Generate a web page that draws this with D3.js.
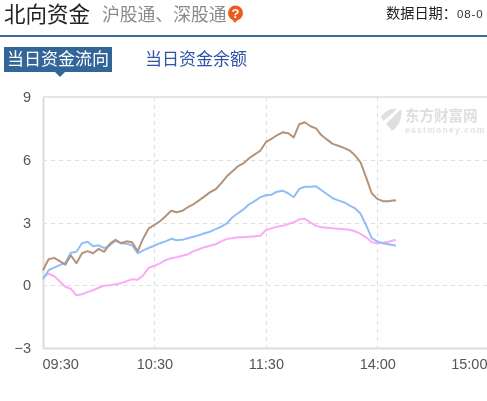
<!DOCTYPE html>
<html><head><meta charset="utf-8">
<script src="https://cdn.jsdelivr.net/npm/d3@7/dist/d3.min.js"></script>
<style>
html,body{margin:0;padding:0;background:#fff;overflow:hidden}
svg{display:block}
text{font-family:"Liberation Sans","Noto Sans CJK SC",sans-serif}
</style></head><body>
<svg id="c" width="487" height="401"></svg>
<script>
const minutes = [0,3,6,9,12,15,18,21,24,27,30,33,36,39,42,45,48,51,54,57,60,63,66,69,72,75,78,81,84,87,90,93,96,99,102,105,108,111,114,117,120,123,126,129,132,135,138,141,144,147,150,153,156,159,162,165,168,171,174,177,180,183,186,189,190];
const northbound = [0.72,1.24,1.31,1.15,0.98,1.43,1.05,1.53,1.63,1.53,1.74,1.60,1.98,2.17,2.01,2.10,2.06,1.63,2.25,2.72,2.89,3.06,3.30,3.56,3.49,3.56,3.73,3.87,4.06,4.25,4.45,4.59,4.88,5.21,5.45,5.69,5.83,6.07,6.26,6.43,6.84,7.00,7.17,7.31,7.27,7.07,7.70,7.79,7.60,7.50,7.17,6.96,6.76,6.67,6.57,6.45,6.21,5.88,5.16,4.40,4.13,4.02,4.02,4.06,4.04];
const shanghai = [0.29,0.72,0.84,0.96,1.08,1.55,1.60,2.01,2.08,1.86,1.91,1.77,1.91,2.13,2.01,1.98,1.91,1.53,1.67,1.79,1.89,2.01,2.10,2.22,2.15,2.17,2.25,2.32,2.39,2.49,2.56,2.68,2.80,2.96,3.25,3.44,3.63,3.87,4.02,4.21,4.30,4.33,4.47,4.52,4.40,4.21,4.61,4.71,4.71,4.73,4.54,4.35,4.16,4.06,3.97,3.82,3.68,3.42,2.87,2.25,2.10,2.01,1.96,1.91,1.89];
const shenzhen = [0.38,0.55,0.43,0.19,-0.07,-0.17,-0.48,-0.43,-0.33,-0.24,-0.12,-0.02,0,0.05,0.10,0.19,0.29,0.26,0.48,0.84,0.93,1.05,1.20,1.29,1.34,1.41,1.48,1.63,1.72,1.82,1.89,1.96,2.10,2.22,2.25,2.29,2.29,2.32,2.34,2.37,2.63,2.72,2.80,2.84,2.92,3.01,3.15,3.18,3.01,2.84,2.77,2.75,2.72,2.70,2.68,2.65,2.58,2.46,2.29,2.06,2.01,2.03,2.08,2.15,2.17];
const xTickMinutes = [0,60,120,180,240];
const xTickLabels = ["09:30","10:30","11:30","14:00","15:00"];
const yTicks = [-3,0,3,6,9];
const seriesColors = {northbound:"#b3947a",shanghai:"#90bef7",shenzhen:"#fbaaf5"};

const svg = d3.select("#c");
const L=43,R=488.7,T=97,B=348;
const x = d3.scaleLinear().domain([0,240]).range([L,R]);
const y = d3.scaleLinear().domain([-3,9]).range([B,T]);
const blur = svg.append("defs").append("filter").attr("id","soft").attr("x","-5%").attr("y","-5%").attr("width","110%").attr("height","110%");
blur.append("feGaussianBlur").attr("stdDeviation",0.45);
const root = svg.append("g").attr("filter","url(#soft)");

// header
root.append("text").attr("x",4).attr("y",22).attr("font-size",21.5).attr("fill","#222").text("北向资金");
root.append("text").attr("x",102).attr("y",20.5).attr("font-size",17.8).attr("fill","#8a8a8a").text("沪股通、深股通");
root.append("circle").attr("cx",235.5).attr("cy",13).attr("r",7.5).attr("fill","#ee5a1e");
root.append("path").attr("d",d3.line()([[231,18],[239,18],[235,23]])).attr("fill","#ee5a1e");
root.append("text").attr("x",235.5).attr("y",18).attr("text-anchor","middle").attr("font-size",13).attr("font-weight",700).attr("fill","#fff").text("?");
root.append("text").attr("x",386).attr("y",18).attr("font-size",14.2).attr("fill","#222").text("数据日期：");
root.append("text").attr("x",457).attr("y",18).attr("font-size",11.5).attr("letter-spacing",0.9).attr("fill","#333").attr("font-family","DejaVu Sans").text("08-0");
root.append("rect").attr("x",0).attr("y",35).attr("width",487).attr("height",2).attr("fill","#3f67a3");

// tabs
root.append("rect").attr("x",4).attr("y",47).attr("width",108).attr("height",25).attr("fill","#336699");
root.append("path").attr("d",d3.line()([[54,71],[66,71],[60,77]])).attr("fill","#336699");
root.append("text").attr("x",7).attr("y",65).attr("font-size",17).attr("fill","#fff").text("当日资金流向");
root.append("text").attr("x",145).attr("y",65).attr("font-size",17).attr("fill","#2f55a4").text("当日资金余额");

// watermark
const wm = root.append("g").attr("fill","#dfdfdf");
wm.append("path").attr("d","M381 116 C388 109 393 108 397 109 C392 113 388 118 383 121 Z");
wm.append("path").attr("d","M386 124 C392 118 396 114 401 109 C403 116 399 127 392 131 C390 128 388 126 386 124 Z");
root.append("text").attr("x",405).attr("y",121).attr("font-size",14.5).attr("font-weight",700).attr("fill","#dedede").text("东方财富网");
root.append("text").attr("x",405).attr("y",133).attr("font-size",8.5).attr("font-weight",700).attr("letter-spacing",1.3).attr("fill","#e2e2e2").text("eastmoney.com");

// grid
const gridG = root.append("g").attr("stroke","#dedede").attr("stroke-width",1).attr("stroke-dasharray","4,4");
gridG.selectAll(".h").data(yTicks.filter(t=>t>-3&&t<9)).join("line")
  .attr("x1",L).attr("x2",487).attr("y1",d=>Math.round(y(d))+.5).attr("y2",d=>Math.round(y(d))+.5);
gridG.selectAll(".v").data(xTickMinutes.slice(1)).join("line")
  .attr("x1",d=>Math.round(x(d))+.5).attr("x2",d=>Math.round(x(d))+.5).attr("y1",T).attr("y2",B);

// axes
const yAxis = d3.axisLeft(y).tickValues(yTicks).tickSize(0).tickPadding(12).tickFormat(d3.format("d"));
const xAxis = d3.axisBottom(x).tickValues(xTickMinutes).tickSize(0).tickPadding(11).tickFormat((d,i)=>xTickLabels[i]);
const gy = root.append("g").attr("transform",`translate(${L},0)`).call(yAxis);
const gx = root.append("g").attr("transform",`translate(0,${B})`).call(xAxis);
for (const g of [gx,gy]) {
  g.selectAll("text").attr("font-size",14.5).attr("fill","#555").attr("font-family","Open Sans");
  g.select(".domain").attr("stroke","#dcdcdc").attr("stroke-width",2);
}
gx.selectAll("text").filter((d,i)=>i===0).attr("text-anchor","start").attr("dx",-1);
gx.selectAll("text").filter((d,i)=>i===4).attr("text-anchor","end").attr("x",-1.7);
root.append("line").attr("x1",L).attr("x2",487).attr("y1",T).attr("y2",T).attr("stroke","#dcdcdc").attr("stroke-width",1.5);

// lines
const line = vals => d3.line().x((d,i)=>x(minutes[i])).y(d=>y(d))(vals);
[[shenzhen,seriesColors.shenzhen],[shanghai,seriesColors.shanghai],[northbound,seriesColors.northbound]].forEach(([v,c])=>{
  root.append("path").attr("d",line(v)).attr("fill","none").attr("stroke",c).attr("stroke-width",2).attr("stroke-linejoin","round");
});
</script></body></html>
